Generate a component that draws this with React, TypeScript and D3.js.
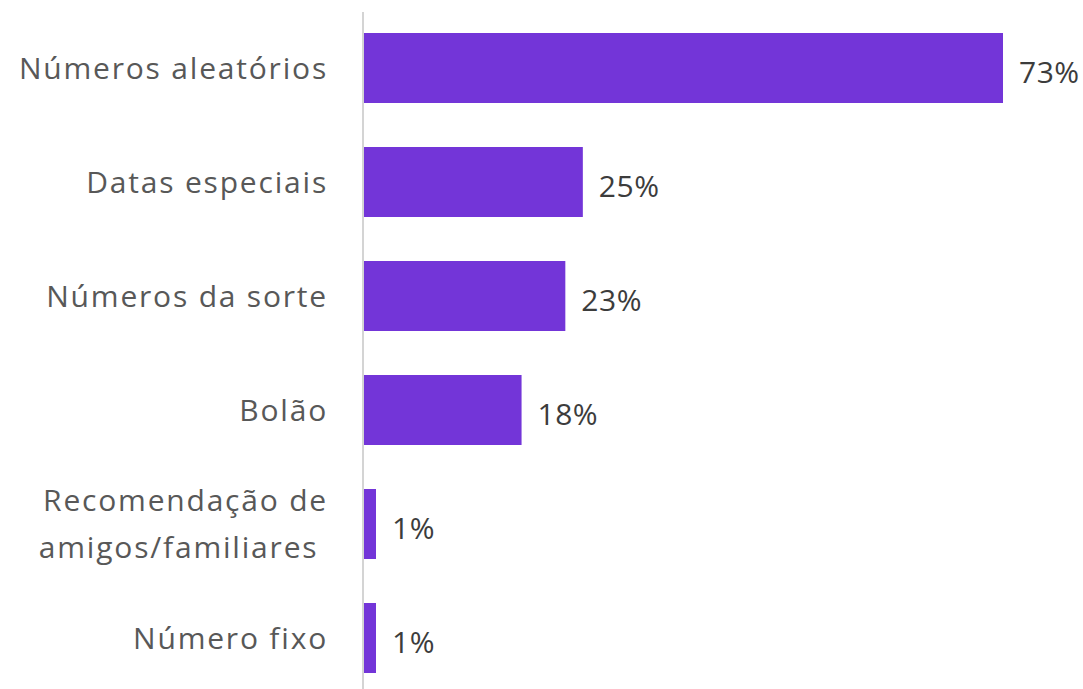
import React from "react";
import * as d3 from "d3";

const categories: string[][] = [
  ["Números aleatórios"],
  ["Datas especiais"],
  ["Números da sorte"],
  ["Bolão"],
  ["Recomendação de", "amigos/familiares "],
  ["Número fixo"],
];
const values: number[] = [73, 25, 23, 18, 1, 1];
const valueLabels: string[] = ["73%", "25%", "23%", "18%", "1%", "1%"];

const W = 1083;
const H = 689;
const X0 = 364;
const FONT = "'Open Sans', 'DejaVu Sans', sans-serif";

export default function App() {
  const ids = categories.map((_, i) => String(i));
  const y = d3.scaleBand<string>().domain(ids).range([11, 695]).paddingInner(0.386).paddingOuter(0.193);
  const x = d3.scaleLinear().domain([0, 73]).range([X0, 1003]);
  return (
    <svg width={W} height={H} style={{ position: "absolute", left: 0, top: 0, background: "#fff" }}>
      {ids.map((id, i) => {
        const yy = y(id)!;
        const bw = y.bandwidth();
        const cy = yy + bw / 2;
        const xe = Math.max(x(values[i]), X0 + 12);
        const lines = categories[i];
        const lh = 47;
        return (
          <g key={id}>
            <rect x={X0} y={yy} width={xe - X0} height={bw} fill="#7335D8" />
            {lines.map((l, j) => (
              <text
                key={j}
                x={328}
                y={cy + (j - (lines.length - 1) / 2) * lh}
                dy="0.35em"
                textAnchor="end"
                fontFamily={FONT}
                fontSize={30}
                letterSpacing={1.8}
                fill="#585858"
                style={{ whiteSpace: "pre" }}
              >
                {l}
              </text>
            ))}
            <text x={xe + 16} y={cy + 4} dy="0.35em" fontFamily={FONT} fontSize={30} letterSpacing={0.5} fill="#3c3c3c">
              {valueLabels[i]}
            </text>
          </g>
        );
      })}
      <line x1={363} x2={363} y1={12} y2={H} stroke="#d4d4d4" strokeWidth={2} />
    </svg>
  );
}
